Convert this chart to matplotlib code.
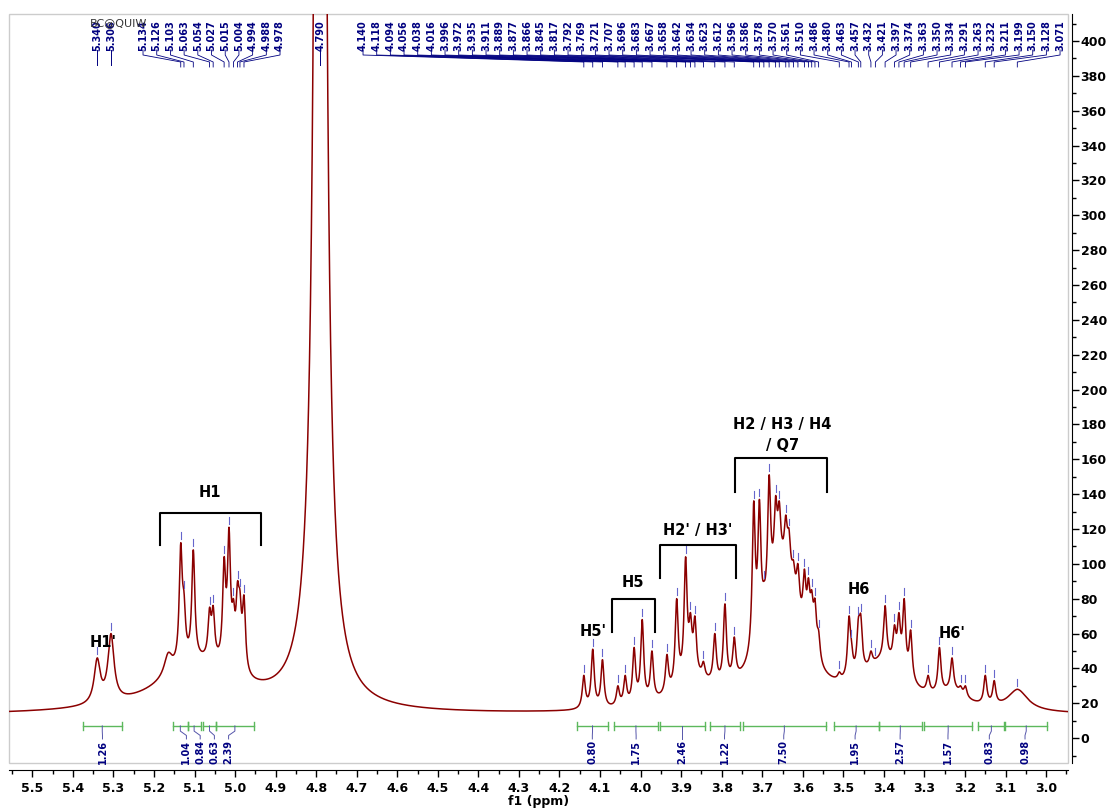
import numpy as np
import matplotlib.pyplot as plt
from matplotlib.patches import Rectangle

# picked peaks (ppm) and their apex heights
pk_ppm = np.array([5.340, 5.306,
                   5.134, 5.126, 5.103, 5.063, 5.054, 5.027, 5.015, 5.004, 4.994, 4.988, 4.978,
                   4.140, 4.118, 4.094, 4.056, 4.038, 4.016, 3.996, 3.972,
                   3.935, 3.911, 3.889, 3.877, 3.866, 3.845, 3.817, 3.792, 3.769,
                   3.721, 3.707, 3.696, 3.683, 3.667, 3.658, 3.642, 3.634, 3.623, 3.612,
                   3.596, 3.586, 3.578, 3.570, 3.561, 3.510,
                   3.486, 3.480, 3.463, 3.457, 3.432, 3.421, 3.397, 3.374, 3.363, 3.350,
                   3.334, 3.291, 3.263, 3.232, 3.211, 3.199, 3.150, 3.128, 3.071])
pk_top = np.array([46, 60,
                   112, 84, 108, 75, 76, 104, 121, 80, 90, 85, 82,
                   36, 51, 45, 30, 36, 52, 68, 50,
                   48, 80, 104, 72, 70, 44, 60, 77, 58,
                   136, 137, 90, 151, 139, 136, 128, 120, 102, 100,
                   97, 92, 85, 80, 62, 38,
                   70, 56, 69, 71, 50, 44, 76, 65, 72, 80,
                   62, 36, 52, 46, 30, 30, 36, 33, 28])
pk_w = np.where(pk_ppm > 5.25, 0.009, 0.0045)

# unlabelled / broad components: centre, height, half width
bd_ppm = [4.790, 4.790, 5.09, 5.165, 3.87, 3.65, 3.40, 3.07, 3.23]
bd_h = [3000, 110, 28, 12, 14, 78, 26, 12, 8]
bd_w = [0.006, 0.025, 0.12, 0.012, 0.06, 0.055, 0.07, 0.03, 0.04]
base = 13

# integrals: start, end, value, label position
int_a = [5.375, 5.153, 5.117, 5.079, 5.047, 4.157, 4.066, 3.952, 3.828, 3.747, 3.524, 3.413, 3.301, 3.167, 3.101]
int_b = [5.280, 5.117, 5.085, 5.047, 4.954, 4.080, 3.957, 3.842, 3.756, 3.544, 3.413, 3.306, 3.182, 3.103, 2.997]
int_v = ['1.26', '1.04', '0.84', '0.63', '2.39', '0.80', '1.75', '2.46', '1.22', '7.50', '1.95', '2.57', '1.57', '0.83', '0.98']
int_lab = [5.327, 5.120, 5.086, 5.051, 5.016, 4.119, 4.011, 3.897, 3.793, 3.647, 3.471, 3.360, 3.242, 3.140, 3.052]


def lor(x, c, w):
    return w**2 / ((x - c)**2 + w**2)


def broad(x):
    y = np.zeros_like(x, dtype=float)
    for c, h, w in zip(bd_ppm, bd_h, bd_w):
        y += h * lor(x, c, w)
    return y


# amplitudes so the curve passes through the read apex heights
A = lor(pk_ppm[:, None], pk_ppm[None, :], pk_w[None, :])
rhs = pk_top - base - broad(pk_ppm)
amp = np.clip(rhs, 0, None).astype(float)
for it in range(300):
    for i in range(len(amp)):
        amp[i] = max(0.0, amp[i] + (rhs[i] - A[i] @ amp) / A[i, i])

x = np.linspace(5.56, 2.94, 8000)
y = base + broad(x)
for c, h, w in zip(pk_ppm, amp, pk_w):
    y += h * lor(x, c, w)
y_pk = base + broad(pk_ppm) + A @ amp

fig = plt.figure(figsize=(11.11, 8.11), dpi=100)
ax = fig.add_axes([9/1111, 48/811, 1059/1111, 749/811])
ax.plot(x, y, color='#8b0000', lw=1.1)
ax.set_xlim(5.5575, 2.946)
ax.set_ylim(-14.3, 415.5)

navy = '#000080'
tr = ax.get_xaxis_transform()


def fy(p):
    return (763 - p) / 749.0


def ppm_px(p):
    return 5.5 - (p - 32.3) / 405.5


# peak markers
for c, v in zip(pk_ppm, y_pk):
    ax.plot([c, c], [v + 2, v + 6], color='#6666cc', lw=0.8)

# peak labels
def lab(txt, lx, px):
    ax.text(lx, fy(20), txt, rotation=90, ha='center', va='top', transform=tr,
            fontsize=7, fontweight='bold', color=navy)
    if lx == px:
        ax.plot([px, px], [fy(50), fy(65)], transform=tr, color=navy, lw=0.7)
    else:
        ax.plot([lx, lx, px, px], [fy(50), fy(55), fy(62), fy(67)], transform=tr, color=navy, lw=0.6)

for c in [5.340, 5.306, 4.790]:
    lab('%.3f' % c, c, c)
g2 = pk_ppm[(pk_ppm < 5.2) & (pk_ppm > 4.9)]
for lx, c in zip(np.linspace(ppm_px(143), ppm_px(280), len(g2)), g2):
    lab('%.3f' % c, lx, c)
g3 = pk_ppm[pk_ppm < 4.2]
for lx, c in zip(np.linspace(ppm_px(363), ppm_px(1060), len(g3)), g3):
    lab('%.3f' % c, lx, c)

ax.text(ppm_px(90), fy(23), 'BC@QUIW', ha='left', va='center', transform=tr,
        fontsize=8, color='#333333')

# integrals
for a, b, v, lx in zip(int_a, int_b, int_v, int_lab):
    ax.plot([a, b], [7, 7], color='#5cb85c', lw=1)
    ax.plot([a, a], [4.5, 9.5], color='#5cb85c', lw=1)
    ax.plot([b, b], [4.5, 9.5], color='#5cb85c', lw=1)
    m = (a + b) / 2
    ax.plot([m, m, lx, lx], [7, 4, 1.5, -0.5], color='#5555aa', lw=0.7)
    ax.text(lx, -1, v, rotation=90, ha='center', va='top', fontsize=7,
            fontweight='bold', color=navy)

# assignments
def bracket(a, b, yl, yt):
    ax.plot([a, a, b, b], [yt, yl, yl, yt], color='black', lw=1.5)

bracket(5.185, 4.936, 129, 111)
bracket(4.070, 3.964, 80, 61)
bracket(3.952, 3.765, 111, 92)
bracket(3.767, 3.540, 161, 141)
af = dict(fontsize=10.5, fontweight='bold', ha='center', va='center')
ax.text(5.325, 55, "H1'", **af)
ax.text(5.062, 141, 'H1', **af)
ax.text(4.118, 61, "H5'", **af)
ax.text(4.018, 89, 'H5', **af)
ax.text(3.859, 119, "H2' / H3'", **af)
ax.text(3.651, 180, 'H2 / H3 / H4', **af)
ax.text(3.651, 168, '/ Q7', **af)
ax.text(3.461, 85, 'H6', **af)
ax.text(3.232, 60, "H6'", **af)

# frame and axes
ax.add_patch(Rectangle((0, 0), 1, 1, transform=ax.transAxes, fill=False,
                       edgecolor='#cccccc', lw=1, clip_on=False))
for s in ['top', 'left']:
    ax.spines[s].set_visible(False)
ax.spines['bottom'].set_position(('outward', 5))
ax.spines['right'].set_position(('outward', 3))
ax.yaxis.tick_right()
ax.set_xticks(np.arange(5.5, 2.95, -0.1))
ax.set_xticks(np.arange(5.55, 2.94, -0.05), minor=True)
ax.set_xticklabels(['%.1f' % t for t in np.arange(5.5, 2.95, -0.1)])
ax.set_yticks(np.arange(0, 401, 20))
ax.set_yticks(np.arange(-10, 411, 10), minor=True)
ax.tick_params(axis='both', which='major', length=5, width=1, labelsize=9)
ax.tick_params(axis='both', which='minor', length=3, width=1)
ax.tick_params(axis='x', pad=4)
ax.tick_params(axis='y', pad=1)
for t in ax.get_xticklabels() + ax.get_yticklabels():
    t.set_fontweight('bold')
ax.set_xlabel('f1 (ppm)', fontsize=9, fontweight='bold', labelpad=0)

fig.savefig('out.png', dpi=100)
